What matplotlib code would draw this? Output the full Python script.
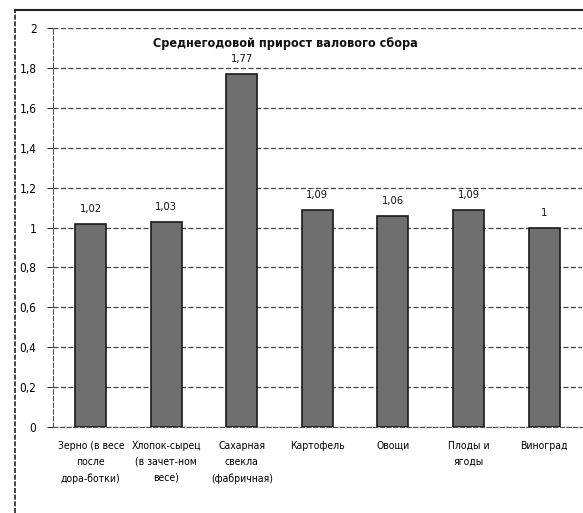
import matplotlib.pyplot as plt
from matplotlib.lines import Line2D

plt.rcParams['font.family'] = ['DejaVu Sans']
plt.rcParams['font.stretch'] = 'condensed'

categories = ['Зерно (в весе\nпосле\nдора-ботки)', 'Хлопок-сырец\n(в зачет-ном\nвесе)',
              'Сахарная\nсвекла\n(фабричная)', 'Картофель', 'Овощи', 'Плоды и\nягоды', 'Виноград']
values = [1.02, 1.03, 1.77, 1.09, 1.06, 1.09, 1.0]
value_labels = ['1,02', '1,03', '1,77', '1,09', '1,06', '1,09', '1']
yticks = [0, 0.2, 0.4, 0.6, 0.8, 1.0, 1.2, 1.4, 1.6, 1.8, 2.0]
ytick_labels = ['0', '0,2', '0,4', '0,6', '0,8', '1', '1,2', '1,4', '1,6', '1,8', '2']

fig = plt.figure(figsize=(5.83, 5.13), dpi=100)
ax = fig.add_axes([0.091, 0.168, 0.907, 0.777])

x = range(len(values))
ax.bar(x, values, width=0.41, color='#6f6f6f', edgecolor='#1a1a1a', linewidth=1.2, zorder=3)

for xi, v, lab in zip(x, values, value_labels):
    ax.annotate(lab, (xi, v), xytext=(0, 7), textcoords='offset points',
                ha='center', va='bottom', fontsize=8, color='#111111')

ax.set_xlim(-0.5, len(values) - 0.5)
ax.set_ylim(0, 2)
ax.set_yticks(yticks)
ax.set_yticklabels(ytick_labels, fontsize=8.5)
ax.set_xticks(list(x))
ax.set_xticklabels(categories, fontsize=7.5, linespacing=1.75, va='top')
ax.tick_params(axis='x', length=0, pad=10)
ax.tick_params(axis='y', length=4, color='#333333', pad=8)

ax.grid(axis='y', linestyle=(0, (4, 2)), color='#444444', linewidth=0.9, zorder=0)
for s in ['top', 'right']:
    ax.spines[s].set_visible(False)
ax.spines['left'].set_linestyle((0, (4, 2)))
ax.spines['left'].set_color('#555555')
ax.spines['bottom'].set_linestyle((0, (4, 2)))
ax.spines['bottom'].set_color('#555555')

ax.text(0.44, 0.962, 'Среднегодовой прирост валового сбора', transform=ax.transAxes,
        ha='center', va='center', fontsize=9, fontweight='bold', color='#111111')

# outer frame of the scanned chart
fig.add_artist(Line2D([0.026, 0.026], [0.0, 0.98], transform=fig.transFigure,
                      color='#222222', linewidth=1.2, linestyle=(0, (3, 1))))
fig.add_artist(Line2D([0.026, 1.0], [0.98, 0.98], transform=fig.transFigure,
                      color='#222222', linewidth=1.5))

plt.savefig('out.png', dpi=100)
